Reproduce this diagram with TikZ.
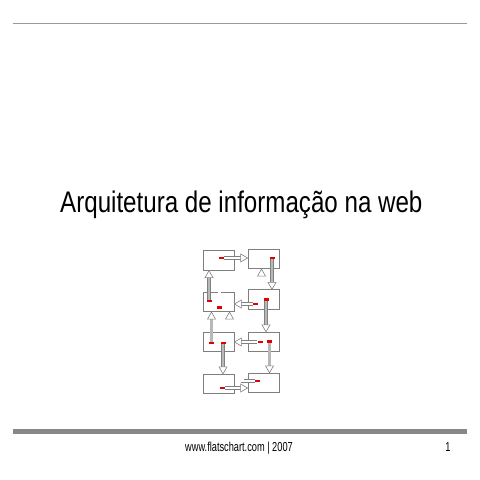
\documentclass[tikz,border=0pt]{standalone}
\usepackage{fontspec}
\setmainfont{Liberation Sans}
\usepackage{graphicx}
\usetikzlibrary{calc}
\definecolor{boxgray}{HTML}{7F7F7F}
\definecolor{arrgray}{HTML}{808080}
\definecolor{linegray}{HTML}{999999}
\definecolor{bargray}{HTML}{888888}
\definecolor{mkred}{HTML}{E00000}
\definecolor{shaftfill}{HTML}{B8B8B8}
\newcommand\hdR[1]{\draw[headst] (#1) -- ++(-7,-4) -- ++(0,8) -- cycle;}
\newcommand\hdL[1]{\draw[headst] (#1) -- ++(7,-4) -- ++(0,8) -- cycle;}
\newcommand\hdU[1]{\draw[headst] (#1) -- ++(-4,7) -- ++(8,0) -- cycle;}
\newcommand\hdD[1]{\draw[headst] (#1) -- ++(-4,-7) -- ++(8,0) -- cycle;}
\begin{document}
\begin{tikzpicture}[x=1pt,y=-1pt,
  box/.style={draw=boxgray, line width=0.75pt, minimum width=31pt, minimum height=19.5pt, inner sep=0pt, fill=white},
  mk/.style={fill=mkred, minimum width=5pt, minimum height=2.5pt, inner sep=0pt},
  shaftw/.style={preaction={draw=arrgray, line width=3.6pt}, draw=white, line width=2.3pt},
  shaftg/.style={preaction={draw=arrgray, line width=3.6pt}, draw=shaftfill, line width=2.3pt},
  legO/.style={fill=arrgray, inner sep=0pt, outer sep=0pt},
  legI/.style={fill=white, inner sep=0pt, outer sep=0pt},
  headst/.style={draw=arrgray, line width=0.6pt, fill=white, line join=miter},
  txt/.style={inner sep=0pt, text=black}]
\useasboundingbox (0,0) rectangle (480,480);
% header / footer rules
\coordinate (hl) at (13,23);
\coordinate (hr) at (466.5,23);
\draw[linegray, line width=1pt] (hl) -- (hr);
\coordinate (fl) at (13,431.7);
\coordinate (fr) at (466.5,431.7);
\draw[bargray, line width=4.7pt] (fl) -- (fr);
% texts
\node[txt, anchor=base west, font=\fontsize{29.8}{34}\selectfont] (title) at (60,212)
  {\scalebox{0.81}[1]{Arquitetura de informação na web}};
\node[txt, anchor=base, font=\fontsize{13}{15}\selectfont] (foot) at (239,451.7)
  {\scalebox{0.71}[1]{www.flatschart.com | 2007}};
\node[txt, anchor=base, font=\fontsize{13}{15}\selectfont] (page) at (448,451.7)
  {\scalebox{0.71}[1]{1}};
% boxes
\node[box] (A) at (218.5,260.5) {};
\node[box] (B) at (263.5,259) {};
\node[box] (C) at (218.5,302) {};
\node[box] (D) at (263.5,299.5) {};
\node[box] (E) at (218.5,342) {};
\node[box] (F) at (263.5,342) {};
\node[box] (G) at (218.5,384) {};
\node[box] (H) at (263.5,383) {};
% markers
\node[mk] (mA) at (221.5,258) {};
\node[mk] (mB) at (272,258) {};
\node[mk] (mC1) at (209,301) {};
\node[mk] (mC2) at (219.5,307.5) {};
\node[mk] (mD1) at (255.5,304) {};
\node[mk] (mD2) at (266,299.5) {};
\node[mk] (mE1) at (211.5,343) {};
\node[mk] (mE2) at (223,343) {};
\node[mk] (mF1) at (260,342) {};
\node[mk] (mF2) at (269.5,341.5) {};
\node[mk] (mG) at (222,388) {};
\node[mk] (mH) at (257,381) {};
% 1: A -> B
\coordinate (t1) at (mA -| B.west);
\draw[shaftw] (mA.east) -- ($(t1)+(-7,0)$); \hdR{t1}
% 2: C -> A
\coordinate (t2) at (mC1 |- A.south);
\draw[shaftg] (mC1.north) -- ($(t2)+(0,7)$); \hdU{t2}
% 3: B -> D
\coordinate (t3) at (mB |- D.north);
\draw[shaftg] (mB.south) -- ($(t3)+(0,-7)$); \hdD{t3}
% 4: C -> B (elbow, built from filled legs)
\node[legO, minimum width=3.6pt, minimum height=22.55pt] (eo1) at (219.5,294.975) {};
\node[legO, minimum width=45.6pt, minimum height=3.6pt] (eo2) at (240.5,285.5) {};
\node[legO, minimum width=3.6pt, minimum height=11.55pt] (eo3) at (261.5,281.525) {};
\node[legI, minimum width=2.3pt, minimum height=21.9pt] (ei1) at (219.5,295.3) {};
\node[legI, minimum width=44.3pt, minimum height=2.3pt] (ei2) at (240.5,285.5) {};
\node[legI, minimum width=2.3pt, minimum height=10.9pt] (ei3) at (261.5,281.2) {};
\coordinate (t4) at (eo3 |- B.south);
\hdU{t4}
% 5: D -> C
\coordinate (t5) at (mD1 -| C.east);
\draw[shaftw] (mD1.west) -- ($(t5)+(7,0)$); \hdL{t5}
% 6: D -> F
\coordinate (t6) at (mD2 |- F.north);
\draw[shaftg] (mD2.south) -- ($(t6)+(0,-7)$); \hdD{t6}
% 7: E -> C
\coordinate (t7) at (mE1 |- C.south);
\draw[shaftg] (mE1.north) -- ($(t7)+(0,7)$); \hdU{t7}
% 12: H -> C (elbow, built from filled legs)
\node[legO, minimum width=13.8pt, minimum height=3.6pt] (fo1) at (247.6,381) {};
\node[legO, minimum width=3.6pt, minimum height=58.1pt] (fo2) at (242.5,353.75) {};
\node[legO, minimum width=16.6pt, minimum height=3.6pt] (fo3) at (236,326.5) {};
\node[legO, minimum width=3.6pt, minimum height=9.55pt] (fo4) at (229.5,323.525) {};
\node[legI, minimum width=13.15pt, minimum height=2.3pt] (fi1) at (247.925,381) {};
\node[legI, minimum width=2.3pt, minimum height=56.8pt] (fi2) at (242.5,353.75) {};
\node[legI, minimum width=15.3pt, minimum height=2.3pt] (fi3) at (236,326.5) {};
\node[legI, minimum width=2.3pt, minimum height=8.9pt] (fi4) at (229.5,323.2) {};
\coordinate (t12) at (fo4 |- C.south);
\hdU{t12}
% 8: F -> E
\coordinate (t8) at (mF1 -| E.east);
\draw[shaftw] (mF1.west) -- ($(t8)+(7,0)$); \hdL{t8}
% 9: E -> G
\coordinate (t9) at (mE2 |- G.north);
\draw[shaftg] (mE2.south) -- ($(t9)+(0,-7)$); \hdD{t9}
% 10: F -> H
\coordinate (t10) at (mF2 |- H.north);
\draw[shaftg] (mF2.south) -- ($(t10)+(0,-7)$); \hdD{t10}
% 11: G -> H
\coordinate (t11) at (mG -| H.west);
\draw[shaftw] (mG.east) -- ($(t11)+(-7,0)$); \hdR{t11}
\end{tikzpicture}
\end{document}
